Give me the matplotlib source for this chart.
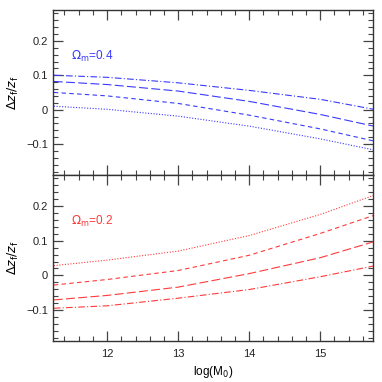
import numpy as np
import matplotlib
matplotlib.use('Agg')
import matplotlib.pyplot as plt
from matplotlib.ticker import MultipleLocator

# log(M0) sample points
logm = [11.25, 12.0, 13.0, 14.0, 15.0, 15.75]

# Omega_m = 0.4 (top panel)
top_dashdot = [0.100, 0.094, 0.078, 0.056, 0.030, 0.001]
top_long = [0.082, 0.073, 0.054, 0.024, -0.014, -0.048]
top_short = [0.050, 0.040, 0.018, -0.016, -0.056, -0.091]
top_dot = [0.010, 0.001, -0.019, -0.048, -0.085, -0.117]

# Omega_m = 0.2 (bottom panel)
bot_dot = [0.028, 0.044, 0.070, 0.115, 0.176, 0.231]
bot_short = [-0.028, -0.012, 0.014, 0.058, 0.121, 0.173]
bot_long = [-0.071, -0.058, -0.034, 0.005, 0.051, 0.097]
bot_dashdot = [-0.095, -0.088, -0.066, -0.041, -0.004, 0.027]

styles = {
    'dot': (0, (1, 1.5)),
    'short': (0, (4, 3)),
    'long': (0, (8, 3)),
    'dashdot': (0, (6, 2, 1, 2)),
}

fig = plt.figure(figsize=(3.82, 3.82), dpi=100)
ax1 = fig.add_axes([0.139, 0.542, 0.837, 0.432])
ax2 = fig.add_axes([0.139, 0.107, 0.837, 0.435], sharex=ax1)

blue = '#3a3aff'
red = '#ff3a3a'
lw = 0.8

ax1.plot(logm, top_dashdot, color=blue, lw=lw, ls=styles['dashdot'])
ax1.plot(logm, top_long, color=blue, lw=lw, ls=styles['long'])
ax1.plot(logm, top_short, color=blue, lw=lw, ls=styles['short'])
ax1.plot(logm, top_dot, color=blue, lw=lw, ls=styles['dot'])
ax1.text(11.49, 0.145, r'$\Omega_{\rm m}$=0.4', color=blue, fontsize=8.5,
         fontfamily='Liberation Sans', va='baseline')

ax2.plot(logm, bot_dot, color=red, lw=lw, ls=styles['dot'])
ax2.plot(logm, bot_short, color=red, lw=lw, ls=styles['short'])
ax2.plot(logm, bot_long, color=red, lw=lw, ls=styles['long'])
ax2.plot(logm, bot_dashdot, color=red, lw=lw, ls=styles['dashdot'])
ax2.text(11.49, 0.145, r'$\Omega_{\rm m}$=0.2', color=red, fontsize=8.5,
         fontfamily='Liberation Sans', va='baseline')

plt.rcParams['mathtext.fontset'] = 'custom'
for ax in (ax1, ax2):
    ax.set_xlim(11.24, 15.74)
    ax.set_ylim(-0.19, 0.29)
    ax.xaxis.set_major_locator(MultipleLocator(1))
    ax.xaxis.set_minor_locator(MultipleLocator(0.2))
    ax.yaxis.set_major_locator(MultipleLocator(0.1))
    ax.yaxis.set_minor_locator(MultipleLocator(0.02))
    ax.set_yticks([-0.1, 0, 0.1, 0.2])
    ax.set_yticklabels(['\u22120.1', '0', '0.1', '0.2'])
    ax.tick_params(which='both', direction='in', top=True, right=True,
                   color='#444444', labelcolor='#222222', labelsize=8)
    ax.tick_params(which='major', length=7, width=0.9)
    ax.tick_params(which='minor', length=3.5, width=0.8)
    for s in ax.spines.values():
        s.set_color('#333333')
        s.set_linewidth(1.0)
    ax.set_ylabel(r'$\Delta z_{\rm f}/z_{\rm f}$', fontsize=9, labelpad=4)
    for lab in ax.get_yticklabels() + ax.get_xticklabels():
        lab.set_fontfamily('Liberation Sans')

plt.setp(ax1.get_xticklabels(), visible=False)
ax2.set_xticks([12, 13, 14, 15])
ax2.set_xticklabels(['12', '13', '14', '15'])
for lab in ax2.get_xticklabels():
    lab.set_fontfamily('Liberation Sans')
ax2.tick_params(axis='x', pad=6)
ax2.set_xlabel(r'log(M$_0$)', fontsize=8.5, fontfamily='Liberation Sans', labelpad=3)

fig.savefig('out.png', dpi=100)
